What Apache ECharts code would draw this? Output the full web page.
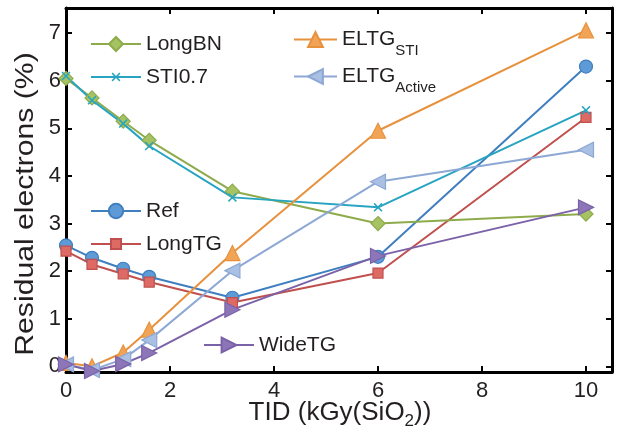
<!DOCTYPE html>
<html>
<head>
<meta charset="utf-8">
<script src="https://cdn.jsdelivr.net/npm/echarts@6/dist/echarts.min.js"></script>
<style>
  html, body { margin: 0; padding: 0; background: #fff; }
  #chart { width: 624px; height: 435px; }
</style>
</head>
<body>
<div id="chart"></div>
<script>
// Total ionizing dose, kGy(SiO2)
const tid = [0, 0.5, 1.1, 1.6, 3.2, 6, 10];

// Residual electrons (%) per structure
const longBN     = [6.05, 5.64, 5.15, 4.75, 3.68, 3.00, 3.20];
const sti07      = [6.10, 5.59, 5.10, 4.63, 3.55, 3.34, 5.38];
const eltgSti    = [0.07, 0.00, 0.29, 0.77, 2.38, 4.95, 7.06];
const eltgActive = [0.04, -0.08, 0.15, 0.55, 2.01, 3.88, 4.55];
const refDev     = [2.54, 2.28, 2.05, 1.88, 1.44, 2.30, 6.30];
const longTG     = [2.42, 2.14, 1.94, 1.77, 1.34, 1.96, 5.23];
const wideTG     = [0.04, -0.10, 0.05, 0.28, 1.19, 2.32, 3.34];

const xTicks = [0, 2, 4, 6, 8, 10];
const yTicks = [0, 1, 2, 3, 4, 5, 6, 7];

const FONT = '"Liberation Sans", Arial, Helvetica, sans-serif';
const INK = '#231f20';

const pairs = (ys) => tid.map((x, i) => [x, ys[i]]);

const crossPath = 'path://M0,1.2 L1.2,0 L5,3.8 L8.8,0 L10,1.2 L6.2,5 L10,8.8 L8.8,10 L5,6.2 L1.2,10 L0,8.8 L3.8,5 Z';

function line(name, data, color, fill, symbol, size, rotate) {
  return {
    name: name,
    type: 'line',
    data: pairs(data),
    symbol: symbol,
    symbolSize: size,
    symbolRotate: rotate || 0,
    showAllSymbol: true,
    lineStyle: { color: color, width: 2 },
    itemStyle: { color: fill, borderColor: color, borderWidth: symbol === crossPath ? 0 : 1.2 },
    emphasis: { disabled: true },
    animation: false,
    clip: false
  };
}

const series = [
  line('Ref', refDev, '#3f7fbf', '#5d9ad6', 'circle', 13),
  line('LongTG', longTG, '#c0504d', '#de6a66', 'rect', 10),
  line('LongBN', longBN, '#8eab4c', '#a5c362', 'diamond', 14),
  line('STI0.7', sti07, '#26a4c1', '#26a4c1', crossPath, 9),
  line('ELTG_STI', eltgSti, '#e8913c', '#f2a456', 'triangle', 15),
  line('ELTG_Active', eltgActive, '#8da8d5', '#a9bfe3', 'triangle', 15, 90),
  line('WideTG', wideTG, '#7b62a8', '#8d76b8', 'triangle', 15, -90)
];

const richText = {
  sub: { fontSize: 15, fontFamily: FONT, color: INK, padding: [22, 0, 0, 0] }
};

function legendLabel(name) {
  if (name === 'ELTG_STI') return 'ELTG{sub|STI}';
  if (name === 'ELTG_Active') return 'ELTG{sub|Active}';
  return name;
}

// one legend block per entry, so each keeps its own marker size
function legend(name, left, top, markH, width) {
  return {
    data: [name],
    left: left,
    top: top,
    orient: 'vertical',
    itemWidth: width || 50,
    itemHeight: markH,
    padding: 0,
    selectedMode: false,
    formatter: legendLabel,
    textStyle: { fontSize: 21, fontFamily: FONT, color: INK, rich: richText }
  };
}

const axisLine = { show: true, onZero: false, lineStyle: { color: '#000', width: 3 } };

const option = {
  backgroundColor: '#fff',
  animation: false,
  grid: { left: 66, right: 12, top: 8, bottom: 63 },
  xAxis: [{
    type: 'value', min: 0, max: 10.5, position: 'bottom',
    axisLine: axisLine,
    axisTick: { show: true, inside: true, length: 6, customValues: xTicks, lineStyle: { color: '#000', width: 2 } },
    axisLabel: { customValues: xTicks, fontSize: 22, fontFamily: FONT, color: INK, margin: 8 },
    splitLine: { show: false }
  }, {
    type: 'value', min: 0, max: 10.5, position: 'top',
    axisLine: axisLine,
    axisTick: { show: true, inside: true, length: 6, customValues: xTicks, lineStyle: { color: '#000', width: 2 } },
    axisLabel: { show: false },
    splitLine: { show: false }
  }],
  yAxis: [{
    type: 'value', min: -0.12, max: 7.53, position: 'left',
    axisLine: axisLine,
    axisTick: { show: true, inside: true, length: 6, customValues: yTicks, lineStyle: { color: '#000', width: 2 } },
    axisLabel: { customValues: yTicks, fontSize: 22, fontFamily: FONT, color: INK, margin: 5 },
    splitLine: { show: false }
  }, {
    type: 'value', min: -0.12, max: 7.53, position: 'right',
    axisLine: axisLine,
    axisTick: { show: true, inside: true, length: 6, customValues: yTicks, lineStyle: { color: '#000', width: 2 } },
    axisLabel: { show: false },
    splitLine: { show: false }
  }],
  legend: [
    legend('LongBN', 90, 33.5, 17.5),
    legend('STI0.7', 90, 66.5, 11),
    legend('ELTG_STI', 293, 29, 18.5, 43),
    legend('ELTG_Active', 293, 66, 18.5, 43),
    legend('Ref', 90, 200.5, 18),
    legend('LongTG', 90, 233.5, 12.5),
    legend('WideTG', 203, 334.5, 18.5)
  ],
  graphic: [{
    type: 'text',
    x: 340, y: 413,
    style: {
      text: 'TID (kGy(SiO{s|2}))',
      fontSize: 26, fontFamily: FONT, fill: INK,
      align: 'center', verticalAlign: 'middle',
      rich: { s: { fontSize: 17, fontFamily: FONT, fill: INK, padding: [16, 0, 0, 0] } }
    }
  }, {
    type: 'text',
    x: 26, y: 204,
    rotation: Math.PI / 2,
    scaleX: 1.16,
    style: {
      text: 'Residual electrons (%)',
      fontSize: 26, fontFamily: FONT, fill: INK,
      align: 'center', verticalAlign: 'middle'
    }
  }],
  series: series
};

const chart = echarts.init(document.getElementById('chart'), null, { renderer: 'canvas' });
chart.setOption(option);
</script>
</body>
</html>
